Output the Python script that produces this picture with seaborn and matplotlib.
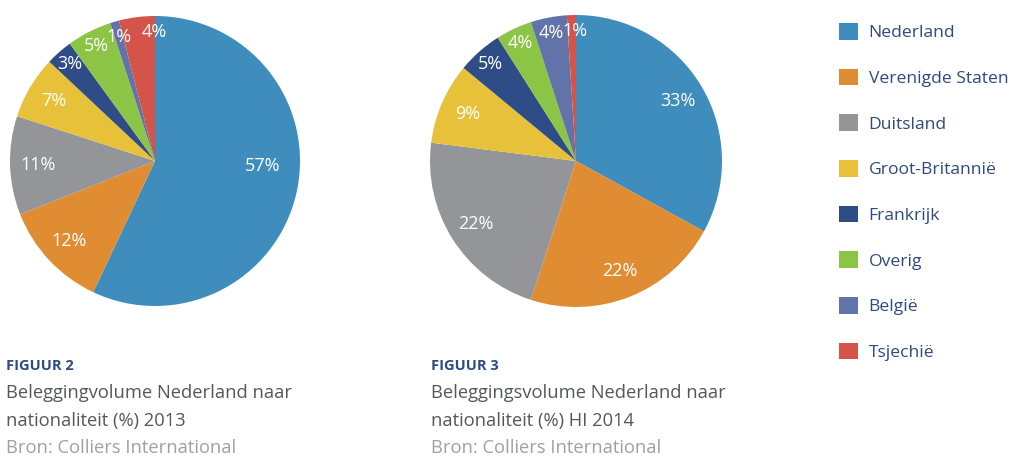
"""
Beleggingsvolume Nederland naar nationaliteit: two pies with a shared legend.
"""
import numpy as np
import matplotlib
matplotlib.use("Agg")
import matplotlib.pyplot as plt
import matplotlib.patches as mpatches
import seaborn as sns

# Data
countries = ["Nederland", "Verenigde Staten", "Duitsland", "Groot-Britannië",
             "Frankrijk", "Overig", "België", "Tsjechië"]
share_2013 = [57, 12, 11, 7, 3, 5, 1, 4]
share_2014 = [33, 22, 22, 9, 5, 4, 4, 1]
colors = ["#3f8dbd", "#e08c32", "#949598", "#e8c13b",
          "#2e4c86", "#8cc445", "#6173a8", "#d4544a"]

fig_labels = ["FIGUUR 2", "FIGUUR 3"]
titles = [
    ["Beleggingvolume Nederland naar", "nationaliteit (%) 2013"],
    ["Beleggingsvolume Nederland naar", "nationaliteit (%) HI 2014"],
]
source = "Bron: Colliers International"

sns.set_theme(style="white")
sns.set_palette(colors)
plt.rcParams["font.family"] = ["Open Sans", "DejaVu Sans"]

W, H = 1024, 462
fig = plt.figure(figsize=(W / 100, H / 100), dpi=100)
fig.patch.set_facecolor("white")


def pie_axes(cx, cy, r):
    # axes placed in pixel coordinates (origin top-left)
    return fig.add_axes([(cx - r) / W, (H - cy - r) / H, 2 * r / W, 2 * r / H])


def draw_pie(ax, values):
    wedges, _ = ax.pie(values, colors=colors, startangle=90, counterclock=False,
                       radius=1.0, wedgeprops=dict(linewidth=0))
    last = len(wedges) - 1
    for i, (w, v) in enumerate(zip(wedges, values)):
        mid = (w.theta1 + w.theta2) / 2
        dist = 0.89 if v <= 5 else 0.81
        if v >= 50:
            dist = 0.74
            mid += 10  # label sits a bit above the wedge centre line
        if i == last:
            # the wedge next to the top: label pushed onto the start line
            mid = w.theta1 + 0.5
        ang = np.deg2rad(mid)
        ax.text(dist * np.cos(ang), dist * np.sin(ang), f"{v}%",
                ha="center", va="center", color="white", fontsize=13)
    ax.set_xlim(-1, 1)
    ax.set_ylim(-1, 1)
    ax.set_aspect("equal")
    ax.axis("off")


draw_pie(pie_axes(155, 161, 145), share_2013)
draw_pie(pie_axes(576, 161, 146), share_2014)

# captions
for x, fig_label, title in zip([6, 431], fig_labels, titles):
    fig.text(x / W, 1 - 366 / H, fig_label, fontsize=10.5, fontweight="bold",
             color="#2c4b85", va="center", ha="left")
    for i, line in enumerate(title):
        fig.text(x / W, 1 - (393 + 28 * i) / H, line, fontsize=13.2,
                 color="#555759", va="center", ha="left")
    fig.text(x / W, 1 - 448 / H, source, fontsize=13.2, color="#a0a0a0",
             va="center", ha="left")

# legend
handles = [mpatches.Patch(facecolor=c, edgecolor="none") for c in colors]
leg = fig.legend(handles, countries, loc="upper left",
                 bbox_to_anchor=(832 / W, 1 - 16 / H), frameon=False,
                 fontsize=12.6, handlelength=1.1, handleheight=1.1,
                 handletextpad=0.6, labelspacing=1.56, borderaxespad=0)
for t in leg.get_texts():
    t.set_color("#2e4a80")

fig.savefig("out.png", dpi=100, facecolor="white")
